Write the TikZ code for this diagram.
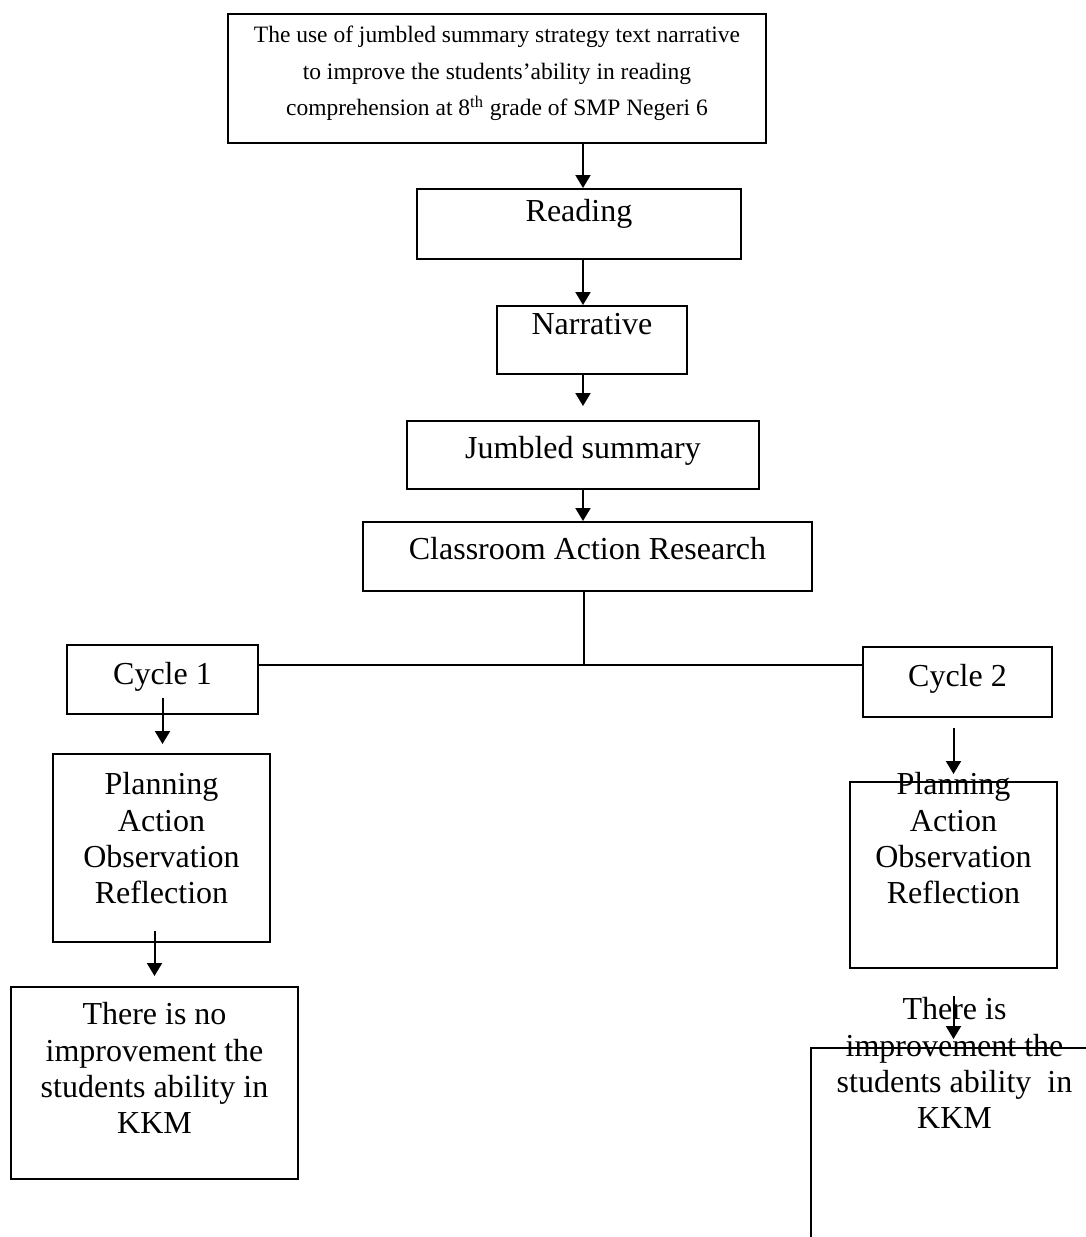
\documentclass[tikz,border=0pt]{standalone}
\usepackage{fontspec}
\setmainfont{Liberation Serif}
\usetikzlibrary{arrows.meta, positioning}

\begin{document}
\begin{tikzpicture}[
    x=0.5pt, y=-0.5pt,
    box/.style={rectangle, draw=black, line width=1pt, inner sep=0pt},
    txt/.style={anchor=north, align=center, inner sep=0pt, font=\fontsize{16}{18.2}\selectfont},
    arr/.style={draw=black, line width=1pt, -{Triangle[length=6.5pt, width=7.5pt]}},
    link/.style={draw=black, line width=1pt}
]
    \useasboundingbox (0,0) rectangle (1086,1237);
    \clip (0,0) rectangle (1086,1237);

    % Title
    \node[box, minimum width=269pt, minimum height=64.5pt,
          label={[txt, yshift=-6.5pt, font=\fontsize{11.75}{18.25}\selectfont]north:{The use of jumbled summary strategy text narrative\\to improve the students’ability in reading\\comprehension at 8\textsuperscript{th} grade of SMP Negeri 6}}] (title) at (497,78.5) {};

    % Main column
    \node[box, minimum width=162pt, minimum height=35pt, label={[txt, yshift=-5.5pt]north:Reading}] (read) at (579,224) {};
    \node[box, minimum width=95pt, minimum height=34pt, label={[txt, yshift=-4pt]north:Narrative}] (narr) at (592,340) {};
    \node[box, minimum width=176pt, minimum height=34pt, label={[txt, yshift=-8pt]north:Jumbled summary}] (jum) at (583,455) {};
    \node[box, minimum width=224.5pt, minimum height=34.5pt, label={[txt, yshift=-8pt]north:Classroom Action Research}] (car) at (587.5,556.5) {};

    % Cycles
    \node[box, minimum width=95.5pt, minimum height=34.5pt, label={[txt, yshift=-9pt]north:Cycle 1}] (cyc1) at (162.5,679.5) {};
    \node[box, minimum width=94.5pt, minimum height=35pt, label={[txt, yshift=-9pt]north:Cycle 2}] (cyc2) at (957.5,682) {};

    \node[box, minimum width=108.5pt, minimum height=94pt, label={[txt, yshift=-9.5pt]north:{Planning\\Action\\Observation\\Reflection}}] (plan1) at (161.5,848) {};
    \node[box, minimum width=103.5pt, minimum height=93pt, label={[txt, yshift=4.5pt]north:{Planning\\Action\\Observation\\Reflection}}] (plan2) at (953.5,875) {};

    % Results
    \node[box, minimum width=143.5pt, minimum height=96pt, label={[txt, yshift=-8pt]north:{There is no\\improvement the\\students ability in\\KKM}}] (noimp) at (154.5,1083) {};
    \node[box, minimum width=143.5pt, minimum height=96pt, label={[txt, yshift=25pt]north:{There is\\improvement the\\students ability~ in\\KKM}}] (imp) at (954.5,1144) {};

    % Connectors
    \draw[arr] (title.south -| jum) -- (read.north -| jum);
    \draw[arr] (read.south -| jum) -- (narr.north -| jum);
    \draw[arr, shorten >=7pt] (narr.south -| jum) -- (jum.north);
    \draw[arr] (jum.south) -- (car.north -| jum);

    \coordinate (fork) at (584,665);
    \draw[link] (car.south -| fork) -- (fork);
    \draw[link] (fork -| cyc1.east) -- (fork -| cyc2.west);

    \draw[arr, shorten <=-8.5pt, shorten >=4.5pt] (cyc1.south) -- (cyc1.south |- plan1.north);
    \draw[arr, shorten <=-6pt, shorten >=5pt] (plan1.south -| noimp) -- (noimp.north);
    \draw[arr, shorten <=5pt, shorten >=3.5pt] (cyc2.south -| plan2) -- (plan2.north);
    \draw[arr, shorten <=13.5pt, shorten >=4pt] (plan2.south) -- (plan2.south |- imp.north);
\end{tikzpicture}
\end{document}
